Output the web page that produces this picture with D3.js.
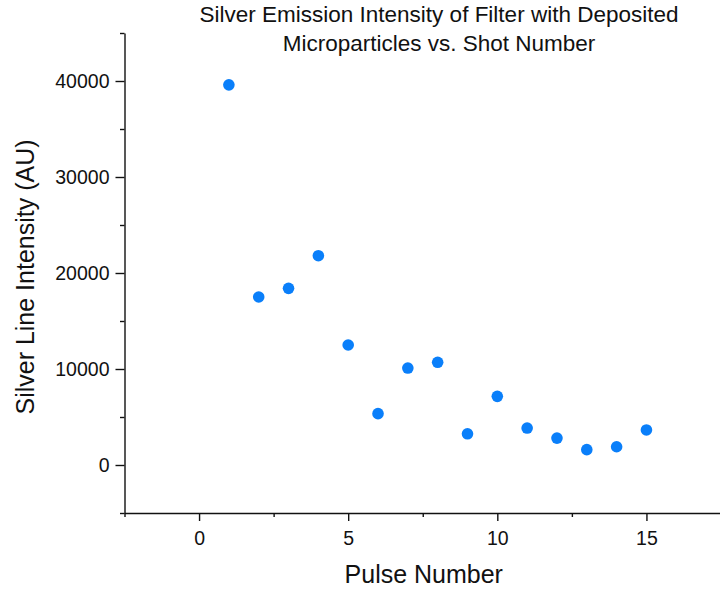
<!DOCTYPE html>
<html>
<head>
<meta charset="utf-8">
<script src="https://cdn.jsdelivr.net/npm/d3@7"></script>
<style>
  html, body { margin: 0; padding: 0; background: #fff; }
  svg { display: block; }
  text { font-family: "Liberation Sans", Arial, sans-serif; fill: #111; }
</style>
</head>
<body>
<svg id="chart" width="720" height="589"></svg>
<script>
// ---- data ----
const pulses = [1, 2, 3, 4, 5, 6, 7, 8, 9, 10, 11, 12, 13, 14, 15];
const intensity = [39600, 17500, 18400, 21800, 12500, 5350, 10100, 10700, 3250, 7150, 3850, 2800, 1600, 1900, 3650];
const xMajorTicks = [0, 5, 10, 15];
const xMinorTicks = [-2.5, 2.5, 7.5, 12.5, 17.5];
const yMajorTicks = [0, 10000, 20000, 30000, 40000];
const yMinorTicks = [-5000, 5000, 15000, 25000, 35000, 45000];
const titleLines = ["Silver Emission Intensity of Filter with Deposited", "Microparticles vs. Shot Number"];
const xTitle = "Pulse Number";
const yTitle = "Silver Line Intensity (AU)";

const svg = d3.select("#chart");
const x = d3.scaleLinear().domain([-2.5, 17.5]).range([124.5, 721]);
const y = d3.scaleLinear().domain([-5000, 45000]).range([513, 33]);
const axisColor = "#111";

// x axis
const gx = svg.append("g").attr("transform", `translate(0,${y(-5000)})`);
gx.call(d3.axisBottom(x).tickValues(xMajorTicks).tickFormat(d3.format("d")).tickSize(8).tickSizeOuter(0).tickPadding(10));
const gxm = svg.append("g").attr("transform", `translate(0,${y(-5000)})`);
gxm.call(d3.axisBottom(x).tickValues(xMinorTicks).tickFormat("").tickSize(4).tickSizeOuter(0));
gxm.select(".domain").remove();

// y axis
const gy = svg.append("g").attr("transform", `translate(${x(-2.5)},0)`);
gy.call(d3.axisLeft(y).tickValues(yMajorTicks).tickFormat(d3.format("d")).tickSize(9).tickSizeOuter(0).tickPadding(6));
const gym = svg.append("g").attr("transform", `translate(${x(-2.5)},0)`);
gym.call(d3.axisLeft(y).tickValues(yMinorTicks).tickFormat("").tickSize(4.5).tickSizeOuter(0));
gym.select(".domain").remove();

svg.selectAll(".domain, .tick line").attr("stroke", axisColor).attr("stroke-width", 1.4);
svg.selectAll(".tick text")
  .style("font-family", '"Liberation Sans", Arial, sans-serif')
  .style("font-size", "19.5px")
  .attr("fill", "#111");

// points
svg.append("g").selectAll("circle")
  .data(pulses.map((p, i) => ({p, v: intensity[i]})))
  .join("circle")
  .attr("cx", d => x(d.p))
  .attr("cy", d => y(d.v))
  .attr("r", 5.8)
  .attr("fill", "#0a7ffa");

// title
svg.append("g").selectAll("text")
  .data(titleLines)
  .join("text")
  .attr("x", 439)
  .attr("y", (d, i) => 22 + i * 29)
  .attr("text-anchor", "middle")
  .style("font-size", "22.5px")
  .text(d => d);

// axis titles
svg.append("text")
  .attr("x", (x(-2.5) + 721) / 2 + 1)
  .attr("y", 583)
  .attr("text-anchor", "middle")
  .style("font-size", "25px")
  .text(xTitle);

svg.append("text")
  .attr("transform", `translate(34,${277}) rotate(-90)`)
  .attr("text-anchor", "middle")
  .style("font-size", "25px")
  .text(yTitle);
</script>
</body>
</html>
